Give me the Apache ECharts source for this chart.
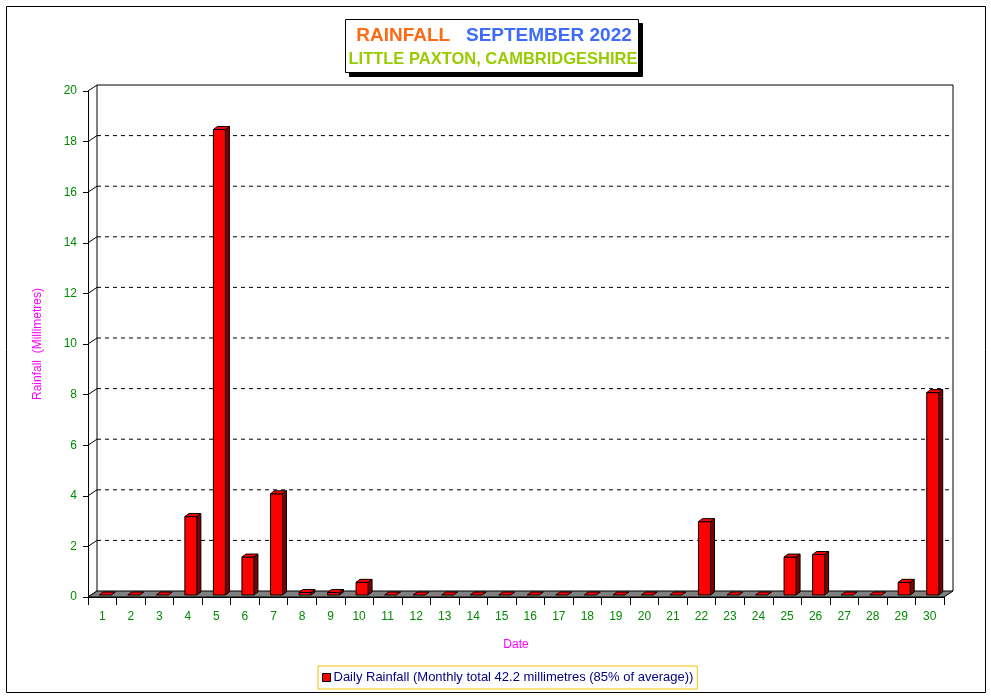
<!DOCTYPE html>
<html>
<head>
<meta charset="utf-8">
<script src="https://cdn.jsdelivr.net/npm/echarts@6/dist/echarts.min.js"></script>
<style>html,body{margin:0;padding:0;background:#fff;}#c{width:991px;height:698px;}</style>
</head>
<body>
<div id="c"></div>
<script>
const days = ['1','2','3','4','5','6','7','8','9','10','11','12','13','14','15','16','17','18','19','20','21','22','23','24','25','26','27','28','29','30'];
const rainfall = [0,0,0,3.1,18.4,1.5,4.0,0.1,0.1,0.5,0,0,0,0,0,0,0,0,0,0,0,2.9,0,0,1.5,1.6,0,0,0.5,8.0];
const yTicks = [0,2,4,6,8,10,12,14,16,18,20];
const titleMain = 'RAINFALL';
const titleMonth = 'SEPTEMBER 2022';
const titleSub = 'LITTLE PAXTON, CAMBRIDGESHIRE';
const seriesName = 'Daily Rainfall (Monthly total 42.2 millimetres (85% of average))';

const DX = 9, DY = 6;     // wall depth
const BDX = 4, BDY = 3;   // bar depth
const FONT = 'Liberation Sans, Arial, sans-serif';
const chart = echarts.init(document.getElementById('c'), null, {renderer:'canvas'});

function bgRender(params, api) {
  const kids = [];
  const left = params.coordSys.x, right = params.coordSys.x + params.coordSys.width;
  const top = api.coord([0, 20])[1], bottom = api.coord([0, 0])[1];
  kids.push({type:'polyline', shape:{points:[[left+DX,bottom-DY],[left+DX,top-DY],[right+DX,top-DY],[right+DX,bottom-DY]]},
    style:{stroke:'#000', lineWidth:1, fill:null}});
  yTicks.forEach(v => {
    const y = api.coord([0, v])[1];
    if (v > 0 && v < 20) {
      kids.push({type:'line', shape:{x1:left+DX, y1:y-DY, x2:right+DX, y2:y-DY},
        style:{stroke:'#000', lineWidth:1, lineDash:[4,4]}});
    }
    kids.push({type:'line', shape:{x1:left, y1:y, x2:left+DX, y2:y-DY}, style:{stroke:'#000', lineWidth:1}});
  });
  kids.push({type:'polygon', shape:{points:[[left,bottom],[left+DX,bottom-DY],[right+DX,bottom-DY],[right,bottom]]},
    style:{fill:'#808080', stroke:'#000', lineWidth:1}});
  return {type:'group', children:kids};
}

function barRender(params, api) {
  const idx = api.value(0), val = api.value(1);
  const p = api.coord([idx, val]);
  const b = api.coord([idx, 0]);
  const L = p[0] - 3, R = p[0] + 9;
  const T = p[1] - 2, B = b[1] - 2;
  const st = {stroke:'#000', lineWidth:1};
  const kids = [];
  if (B - T > 0.5) {
    kids.push({type:'polygon', shape:{points:[[R,T],[R+BDX,T-BDY],[R+BDX,B-BDY],[R,B]]}, style:Object.assign({fill:'#800000'}, st)});
    kids.push({type:'rect', shape:{x:L, y:T, width:R-L, height:B-T}, style:Object.assign({fill:'#ff0000'}, st)});
  }
  kids.push({type:'polygon', shape:{points:[[L,T],[L+BDX,T-BDY],[R+BDX,T-BDY],[R,T]]}, style:Object.assign({fill:'#ff0000'}, st)});
  return {type:'group', children:kids};
}

const option = {
  animation:false,
  backgroundColor:'#ffffff',
  textStyle:{fontFamily:FONT},
  legend:{
    top:666, left:318,
    data:[{name:seriesName, icon:'rect', itemStyle:{color:'#ff0000', borderColor:'#000', borderWidth:1}}],
    itemWidth:8, itemHeight:8, itemGap:4,
    borderColor:'#f2c200', borderWidth:1, padding:[5,4,5,4],
    textStyle:{color:'#000080', fontSize:13, fontFamily:FONT, padding:[0,0,0,-2]}
  },
  grid:{left:88, right:47, top:91, bottom:101, containLabel:false},
  xAxis:{
    type:'category', data:days,
    name:'Date', nameLocation:'middle', nameGap:42,
    nameTextStyle:{color:'#ff00ff', fontSize:12, fontFamily:FONT},
    axisLine:{show:true, lineStyle:{color:'#000', width:1}},
    axisTick:{show:true, length:8, lineStyle:{color:'#000'}},
    axisLabel:{color:'#008a00', fontSize:12, margin:14, interval:0, fontFamily:FONT},
    splitLine:{show:false}
  },
  yAxis:{
    type:'value', min:0, max:20, interval:2,
    name:'Rainfall  (Millimetres)', nameLocation:'middle', nameGap:44, nameRotate:90,
    nameTextStyle:{color:'#ff00ff', fontSize:12, fontFamily:FONT},
    axisLine:{show:true, lineStyle:{color:'#000', width:1}},
    axisTick:{show:true, length:5, lineStyle:{color:'#000'}},
    axisLabel:{color:'#008a00', fontSize:12, margin:11, fontFamily:FONT},
    splitLine:{show:false}
  },
  graphic:[
    {type:'rect', shape:{x:6.5, y:6.5, width:979, height:686}, style:{fill:null, stroke:'#000', lineWidth:1}, silent:true, z:-10},
    {type:'rect', shape:{x:349.5, y:23.5, width:293, height:53}, style:{fill:'#000', stroke:'#000', lineWidth:1}, silent:true, z:10},
    {type:'rect', shape:{x:345.5, y:19.5, width:293, height:53}, style:{fill:'#fff', stroke:'#000', lineWidth:1}, silent:true, z:11},
    {type:'text', x:494, y:36, z:12, silent:true, style:{
      text:'{a|' + titleMain + '}   {b|' + titleMonth + '}', align:'center', verticalAlign:'middle',
      rich:{
        a:{fill:'#ff6a13', fontSize:19, fontWeight:'bold', fontFamily:FONT},
        b:{fill:'#3d6bff', fontSize:19, fontWeight:'bold', fontFamily:FONT}
      },
      fontSize:19, fontWeight:'bold', fontFamily:FONT
    }},
    {type:'text', x:493, y:59, z:12, silent:true, style:{
      text:titleSub, align:'center', verticalAlign:'middle',
      fill:'#99cc00', fontSize:16.5, fontWeight:'bold', fontFamily:FONT
    }}
  ],
  series:[
    {type:'custom', name:'bg', renderItem:bgRender, data:[[0,0]], z:1, silent:true, clip:false},
    {type:'custom', name:seriesName, renderItem:barRender, itemStyle:{color:'#ff0000'},
     data:rainfall.map((v,i)=>[i,v]), z:2, clip:false}
  ]
};
chart.setOption(option);
</script>
</body>
</html>
